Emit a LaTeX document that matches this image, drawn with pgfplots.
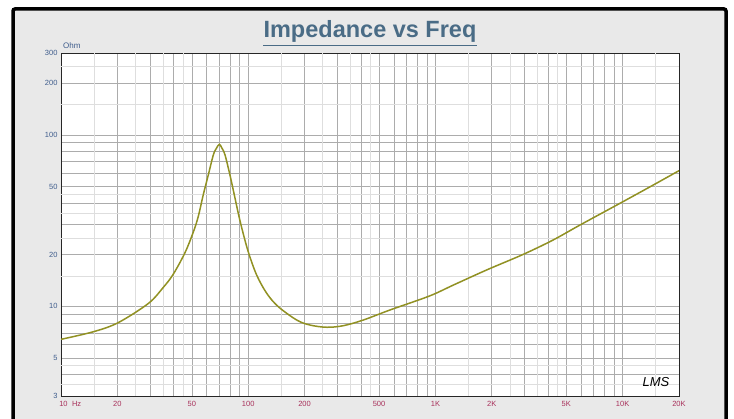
\documentclass[border=0pt]{standalone}
\usepackage{fontspec}
\setmainfont{Liberation Sans}
\usepackage{pgfplots}
\pgfplotsset{compat=1.18}
\definecolor{bg}{RGB}{233,233,233}
\definecolor{titleblue}{RGB}{74,108,134}
\definecolor{ylab}{RGB}{62,92,140}
\definecolor{xlab}{RGB}{168,48,90}
\definecolor{curve}{RGB}{145,145,35}
\definecolor{gridd}{RGB}{172,172,172}
\definecolor{gridl}{RGB}{222,222,222}
\begin{document}
\begin{tikzpicture}[x=1pt,y=1pt]
\path[use as bounding box] (0pt,0pt) rectangle (734pt,419pt);
\begin{scope}
\clip (0pt,0pt) rectangle (734pt,419pt);
\fill[white] (0pt,0pt) rectangle (734pt,419pt);
\draw[line width=3.5pt, fill=bg, rounded corners=2pt] (13pt,-20pt) rectangle (726pt,410pt);
\end{scope}
\node[anchor=base, font=\bfseries\fontsize{23.5}{23.5}\selectfont, text=titleblue, inner sep=0] (t) at (370pt,381.3pt) {Impedance vs Freq};
\draw[titleblue, line width=1.8pt] (t.west |- 0pt,373.5pt) -- (t.east |- 0pt,373.5pt);
\node[anchor=base west, inner sep=0, text=ylab, font=\fontsize{8}{8}\selectfont] at (63pt,370pt) {Ohm};
\begin{axis}[
  at={(61pt,23pt)}, anchor=south west, scale only axis,
  width=618pt, height=343pt,
  xmode=log, ymode=log,
  xmin=10, xmax=20000, ymin=3, ymax=300,
  axis background/.style={fill=white},
  xtick={10,20,50,100,200,500,1000,2000,5000,10000,20000},
  xticklabels={\rlap{\hspace*{-1.7pt}10\hspace*{4.4pt}Hz},20,50,100,200,500,1K,2K,5K,10K,20K},
  ytick={3,5,10,20,50,100,200,300},
  yticklabels={3,5,10,20,50,100,200,300},
  minor xtick={30,40,60,70,80,90,300,400,600,700,800,900,3000,4000,6000,7000,8000,9000},
  minor ytick={4,6,7,8,9,30,40,60,70,80,90},
  grid=both,
  major grid style={gridd, line width=0.6pt},
  minor grid style={gridd, line width=0.6pt},
  major tick length=0pt, minor tick length=0pt,
  axis line style={black!85, line width=0.9pt},
  xticklabel style={font=\fontsize{7.5}{8}\selectfont, text=xlab, anchor=base, yshift=-10.7pt},
  yticklabel style={font=\fontsize{7.5}{8}\selectfont, text=ylab},
]
\pgfplotsinvokeforeach{15,25,35,45,150,250,350,450,1500,2500,3500,4500,15000}{
  \draw[gridl, line width=0.6pt] (axis cs:#1,3) -- (axis cs:#1,300);
}
\pgfplotsinvokeforeach{3.5,4.5,15,25,35,45,150,250}{
  \draw[gridl, line width=0.6pt] (axis cs:10,#1) -- (axis cs:20000,#1);
}
\addplot[curve, line width=1.5pt, smooth, tension=0.55] table {
f Z
10 6.42
14.9 7.11
20.2 8.03
29.3 10.4
35.2 12.9
39.8 15.4
46.0 20.6
50.9 27.1
54.1 33.4
57.5 44.6
61.2 58.3
65.1 76.3
67.7 83.6
70.1 88.0
72.4 83.6
75.2 76.3
79.9 58.3
84.3 44.6
88.9 34.1
93.9 26.7
100.6 20.4
111.0 15.2
125.6 11.9
144.8 9.95
181.6 8.32
213.8 7.78
262.7 7.55
322 7.71
412 8.32
572 9.52
928 11.48
1246 13.3
1879 16.3
2949 20.1
4264 24.4
5922 29.8
9685 39.9
14590 51.0
20000 61.8
};
\end{axis}
\node[font=\itshape\fontsize{13}{13}\selectfont] at (656pt,36.5pt) {LMS};
\end{tikzpicture}
\end{document}
